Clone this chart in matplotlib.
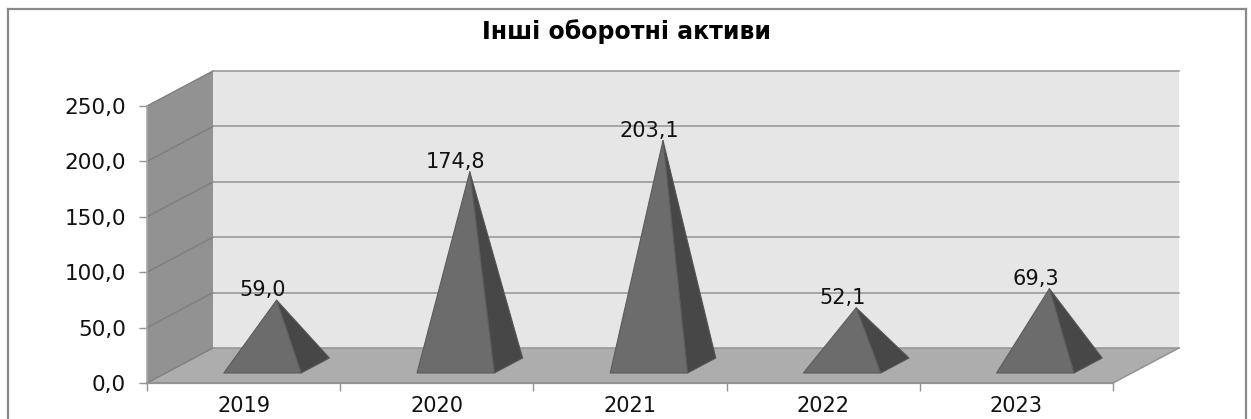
import matplotlib
matplotlib.use("Agg")
import matplotlib.pyplot as plt
from matplotlib.patches import Polygon

# Дані
years = ["2019", "2020", "2021", "2022", "2023"]
values = [59.0, 174.8, 203.1, 52.1, 69.3]
y_ticks = [0, 50, 100, 150, 200, 250]
title = "Інші оборотні активи"

W, H = 1251, 419
FONT = "DejaVu Sans"
GRID = "#939393"
TEXT = "#111111"

# передня площина осей у пікселях
left, right, bottom, top = 147, 1113, 383, 106
depth_px = (66, 35)

fig = plt.figure(figsize=(W / 100, H / 100), dpi=100)
ax = fig.add_axes([left / W, 1 - bottom / H, (right - left) / W, (bottom - top) / H])
ax.set_xlim(0, len(years))
ax.set_ylim(0, y_ticks[-1])
ax.patch.set_visible(False)

# глибина 3D-псевдопроекції в одиницях осей
dx = depth_px[0] / ((right - left) / len(years))
dy = depth_px[1] / ((bottom - top) / y_ticks[-1])


def proj(x, v, d=0.0):
    return (x + d * dx, v + d * dy)


def face(points, color, z, edge="none", lw=0.0):
    ax.add_patch(Polygon([proj(*p) for p in points], closed=True, facecolor=color,
                         edgecolor=edge, linewidth=lw, zorder=z, clip_on=False,
                         joinstyle="round"))


n = len(years)
ymax = y_ticks[-1]
face([(0, 0, 1), (n, 0, 1), (n, ymax, 1), (0, ymax, 1)], "#e6e6e6", 1)
face([(0, 0, 0), (0, 0, 1), (0, ymax, 1), (0, ymax, 0)], "#929292", 1)
face([(0, 0, 0), (n, 0, 0), (n, 0, 1), (0, 0, 1)], "#adadad", 2)

# сітка
for v in y_ticks:
    ax.plot(*zip(proj(0, v, 0), proj(0, v, 1)), color="#7e7e7e", lw=1.0, zorder=3, clip_on=False)
    ax.plot(*zip(proj(0, v, 1), proj(n, v, 1)), color=GRID, lw=1.1, zorder=3, clip_on=False)
ax.plot(*zip(proj(n, 0, 0), proj(n, 0, 1)), color=GRID, lw=1.1, zorder=3, clip_on=False)
ax.plot(*zip(proj(0, 0, 0), proj(0, ymax, 0)), color="#a8a8a8", lw=1.2, zorder=3, clip_on=False)

# піраміди
half = 0.2
d_front, d_back = 0.286, 0.714
for i, v in enumerate(values):
    c = i + 0.5
    apex = (c, v, 0.5)
    face([(c + half, 0, d_front), (c + half, 0, d_back), apex], "#474747", 4, "#555555", 0.8)
    face([(c - half, 0, d_front), (c + half, 0, d_front), apex], "#6c6c6c", 5, "#5c5c5c", 0.8)
    x_a, y_a = proj(*apex)
    ax.annotate(f"{v:.1f}".replace(".", ","), (x_a, y_a), xytext=(-10, 7),
                textcoords="offset points", ha="center", va="center",
                fontsize=15, family=FONT, color=TEXT, zorder=6,
                annotation_clip=False)

# осі
for s in ("top", "right", "left"):
    ax.spines[s].set_visible(False)
ax.spines["bottom"].set_color(GRID)
ax.spines["bottom"].set_linewidth(1.6)
ax.spines["bottom"].set_zorder(4)
ax.set_yticks(y_ticks)
ax.set_yticklabels([f"{v:.1f}".replace(".", ",") for v in y_ticks],
                   fontsize=15.5, family=FONT, color=TEXT)
ax.set_xticks(range(n + 1))
ax.set_xticklabels([])
ax.set_xticks([i + 0.5 for i in range(n)], minor=True)
ax.set_xticklabels(years, minor=True, fontsize=15, family=FONT, color=TEXT)
ax.tick_params(axis="y", length=6, width=1, color=GRID, pad=9)
ax.tick_params(axis="x", which="major", length=6, width=1, color=GRID)
ax.tick_params(axis="x", which="minor", length=0, pad=9)

fig.text(626 / W, 1 - 32 / H, title, ha="center", va="center", fontsize=17,
         fontweight="bold", family=FONT, color="#000000")

# рамка діаграми (знизу обрізана)
for xs, ys in [((7.5, 7.5), (0, H - 9)), ((7.5, 1245.5), (H - 9, H - 9)), ((1245.5, 1245.5), (H - 9, 0))]:
    fig.add_artist(plt.Line2D([x / W for x in xs], [y / H for y in ys],
                              color="#8a8a8a", lw=1.6))

fig.savefig("out.png", dpi=100, facecolor="white")
